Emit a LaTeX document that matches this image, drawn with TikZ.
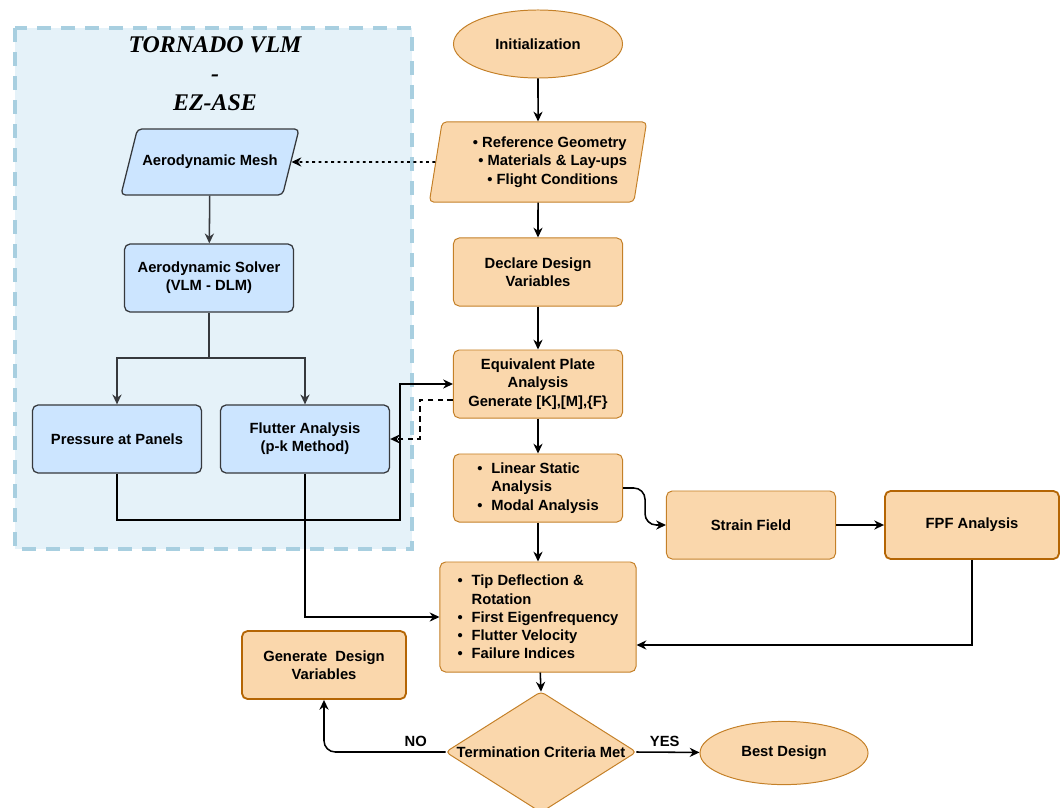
\documentclass[tikz,border=0pt]{standalone}
\usepackage{fontspec}
\setmainfont{Liberation Sans}
\newfontfamily\titlefont{Liberation Serif}
\usetikzlibrary{shapes.geometric,arrows.meta,calc}
\usetikzlibrary{positioning}
\definecolor{orfill}{RGB}{250,215,172}
\definecolor{ordraw}{RGB}{196,128,40}
\definecolor{orthick}{RGB}{180,101,4}
\definecolor{blfill}{RGB}{204,229,255}
\definecolor{bldraw}{RGB}{54,57,61}
\definecolor{bgfill}{RGB}{229,242,249}
\definecolor{bgdraw}{RGB}{168,207,224}
\newcommand{\blt}{\textbullet\hspace{0.6em}}
\pgfdeclarelayer{background}
\pgfsetlayers{background,main}
\tikzset{
	rectnode/.style={rectangle, rounded corners=4pt, draw=ordraw, fill=orfill, line width=0.7pt, minimum width=4.225cm, minimum height=1.7cm, align=center, font=\bfseries},
	thicknode/.style={rectnode, draw=orthick, line width=1.3pt},
	roundnode/.style={ellipse, draw=ordraw, fill=orfill, line width=0.7pt, align=center, font=\bfseries},
	datanode/.style={trapezium, trapezium left angle=#1, trapezium right angle=180-#1, trapezium stretches body=true, rounded corners=3pt, line width=0.7pt, align=center, font=\bfseries},
	bluenode/.style={rectangle, rounded corners=4pt, draw=bldraw, fill=blfill, line width=0.9pt, minimum width=4.225cm, minimum height=1.7cm, align=center, font=\bfseries},
	decnode/.style={rectangle, minimum width=4.75cm, minimum height=3cm, inner sep=0pt, font=\bfseries},
	arr/.style={-{Stealth[length=7pt,width=6.5pt]}, line width=1.1pt, black},
	grayarr/.style={arr, draw=bldraw},
	lbl/.style={font=\bfseries}
}
\begin{document}
\begin{tikzpicture}[x=0.025cm, y=-0.025cm, every node/.append style={font=\bfseries}]
	\useasboundingbox (0,0) rectangle (1062,807);
	\fontsize{10.5}{13}\selectfont
	
	% aerodynamic part (TORNADO)
	\draw[fill=bgfill, draw=bgdraw, line width=2.2pt, dash pattern=on 0.35cm off 0.25cm] (15,28) rectangle (412,549);
	\node[align=center, font=\titlefont\bfseries\itshape\fontsize{17}{20.5}\selectfont] at (215,74) (title) {TORNADO VLM\\-\\EZ-ASE};
	
	\node[datanode=76, draw=bldraw, fill=blfill, line width=0.9pt, minimum width=3.9cm, inner ysep=18.5pt] at (210,162) (mesh) {Aerodynamic Mesh};
	\node[bluenode] at (209,278) (solver) {Aerodynamic Solver\\(VLM - DLM)};
	\node[bluenode] at (117,439) (press) {Pressure at Panels};
	\node[bluenode] at (305,439) (flutter) {Flutter Analysis\\(p-k Method)};
	
	% main chain
	\node[roundnode, minimum width=4.225cm, minimum height=1.7cm] at (538,44) (init) {Initialization};
	\node[datanode=78, draw=ordraw, fill=orfill, minimum width=5.43cm, minimum height=2cm] at (538,162) (refgeo) {\hspace*{1.6em}\textbullet\ Reference Geometry\\\hspace*{2em}\textbullet\ Materials \& Lay-ups\\\hspace*{2em}\textbullet\ Flight Conditions};
	\node[rectnode] at (538,272) (declare) {Declare Design\\Variables};
	\node[rectnode] at (538,384) (plate) {Equivalent Plate\\Analysis\\Generate [K],[M],\{F\}};
	\node[rectnode, align=left] at (538,488) (static) {\blt Linear Static\\\phantom{\blt}Analysis\\\blt Modal Analysis};
	\node[rectnode] at (751,525) (strain) {Strain Field};
	\node[thicknode, minimum width=4.35cm] at (972,525) (fpf) {FPF Analysis};
	\node[rectnode, align=left, minimum width=4.9cm, minimum height=2.75cm] at (538,617) (tip) {\blt Tip Deflection \&\\\phantom{\blt}Rotation\\\blt First Eigenfrequency\\\blt Flutter Velocity\\\blt Failure Indices};
	\node[thicknode, minimum width=4.1cm] at (324,665) (gen) {Generate\ \ Design\\Variables};
	\node[decnode] at (541,752) (term) {Termination Criteria Met};
	\begin{pgfonlayer}{background}
		\draw[draw=ordraw, fill=orfill, line width=0.7pt, rounded corners=3pt] (term.north) -- (term.east) -- (term.south) -- (term.west) -- cycle;
	\end{pgfonlayer}
	\node[roundnode, minimum width=4.2cm, minimum height=1.58cm] at (784,753) (best) {Best Design};
	
	% connectors
	\draw[arr] (init) -- (refgeo);
	\draw[arr] (refgeo) -- (declare);
	\draw[arr] (declare) -- (plate);
	\draw[arr] (plate) -- (static);
	\draw[arr] (static) -- (tip);
	\draw[arr] (tip) -- (term.north);
	\draw[arr] (term.east) -- node[lbl, above, pos=0.45] {YES} (best);
	\draw[arr, rounded corners=8pt] (term.west) -- node[lbl, above] {NO} ++(-60,0) -| (gen.south);
	\draw[arr, line width=1.2pt, dash pattern=on 2pt off 2.5pt] (refgeo.west) -- (mesh.east);
	\draw[grayarr] (mesh) -- (solver);
	\coordinate (split) at (209,358);
	\draw[grayarr] (solver.south) -- (split) -| (press.north);
	\draw[grayarr] (split) -| (flutter.north);
	\coordinate (pbend) at (400,520);
	\draw[arr] (press.south) |- (pbend) |- (plate.west);
	\draw[arr, dash pattern=on 4pt off 3pt] ($(plate.west)+(0,16)$) -- ++(-33,0) |- (flutter.east);
	\draw[arr] (flutter.south) |- (tip.west);
	\draw[arr, rounded corners=8pt] (static.east) -- ++(22,0) |- (strain.west);
	\draw[arr] (strain) -- (fpf);
	\draw[arr] (fpf.south) |- ($(tip.east)+(0,28)$);
\end{tikzpicture}
\end{document}
